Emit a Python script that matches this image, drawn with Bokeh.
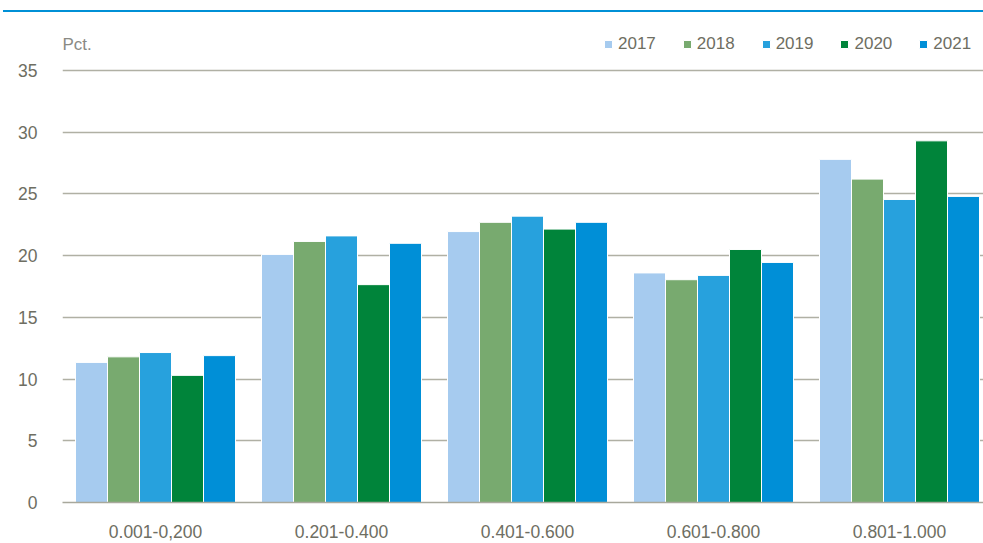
from bokeh.plotting import figure
from bokeh.models import (ColumnDataSource, Range1d, FixedTicker, Legend, LegendItem,
                          Label, Div)
from bokeh.layouts import column
from bokeh.embed import file_html
from bokeh.resources import INLINE

groups = ["0.001-0,200", "0.201-0.400", "0.401-0.600", "0.601-0.800", "0.801-1.000"]
years = ["2017", "2018", "2019", "2020", "2021"]
v2017 = [11.35, 20.1, 21.95, 18.6, 27.8]
v2018 = [11.8, 21.15, 22.7, 18.05, 26.2]
v2019 = [12.15, 21.6, 23.2, 18.4, 24.55]
v2020 = [10.3, 17.65, 22.15, 20.5, 29.3]
v2021 = [11.9, 21.0, 22.7, 19.45, 24.8]
series = [v2017, v2018, v2019, v2020, v2021]
colors = ["#a6cbef", "#78aa6f", "#27a1dd", "#00843a", "#008fd7"]
yticks = [0, 5, 10, 15, 20, 25, 30, 35]

FONT = "Liberation Sans"
TXT = "#6e6e62"

p = figure(width=983, height=531, output_backend="svg", toolbar_location=None,
           x_range=Range1d(0, 921 / 186), y_range=Range1d(0, 482 / (432 / 35)),
           min_border_left=62, min_border_right=0, min_border_top=8,
           min_border_bottom=41)
p.outline_line_color = None

bw = 32 / 186
centers = [i + 0.5 for i in range(len(groups))]
items = []
for k, (yr, vals, c) in enumerate(zip(years, series, colors)):
    xs = [cx + (k - 2) * bw for cx in centers]
    src = ColumnDataSource(dict(x=xs, top=vals))
    r = p.vbar(x="x", top="top", width=bw, source=src, fill_color=c,
               line_color="white", line_width=1)
    items.append(LegendItem(label=yr, renderers=[r]))

# axes
p.xaxis.ticker = FixedTicker(ticks=centers)
p.xaxis.major_label_overrides = {c: g for c, g in zip(centers, groups)}
p.xaxis.major_tick_line_color = None
p.xaxis.minor_tick_line_color = None
p.xaxis.axis_line_color = "#a8a89c"
p.xaxis.axis_line_width = 1.5
p.xaxis.major_label_standoff = 16
p.xaxis.major_label_text_font = FONT
p.xaxis.major_label_text_font_size = "17.5px"
p.xaxis.major_label_text_color = TXT

p.yaxis.ticker = FixedTicker(ticks=yticks)
p.yaxis.axis_line_color = None
p.yaxis.major_tick_line_color = None
p.yaxis.minor_tick_line_color = None
p.yaxis.major_label_standoff = 19
p.yaxis.major_label_text_font = FONT
p.yaxis.major_label_text_font_size = "17.5px"
p.yaxis.major_label_text_color = TXT

p.xgrid.grid_line_color = None
p.ygrid.grid_line_color = "#b0b0a4"
p.ygrid.grid_line_width = 1.3

legend = Legend(items=items, orientation="horizontal", location=(541, 448),
                glyph_width=10, glyph_height=10, label_standoff=5, spacing=26,
                padding=0, margin=0, border_line_color=None,
                background_fill_alpha=0, label_text_font=FONT,
                label_text_font_size="17px", label_text_color=TXT,
                label_height=20)
p.add_layout(legend, "center")

p.add_layout(Label(x=0, y=37.1, text="Pct.", text_font=FONT, text_font_size="17px",
                   text_color="#8a8a84", text_baseline="middle"))

line = Div(text="", width=980, height=2, margin=(10, 0, 0, 3),
           styles={"background-color": "#0090d6"})

layout = column(line, p, spacing=0)
open("out.html", "w").write(file_html(layout, INLINE))
